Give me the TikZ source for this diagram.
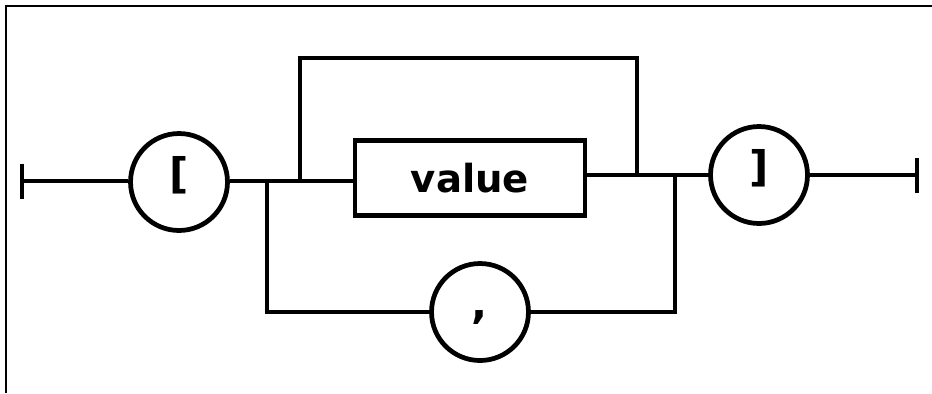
\documentclass[tikz,border=0pt]{standalone}
\usepackage{fontspec}
\setmainfont{DejaVu Sans}
\usetikzlibrary{positioning}

\begin{document}
\begin{tikzpicture}[x=0.02cm,y=-0.02cm,
			rail/.style={line width=2.7pt},
			term/.style={draw,circle,fill=white,line width=2.7pt,minimum size=1.94cm,inner sep=0pt,
				text height=0.88em,text depth=0.12em,font=\bfseries\fontsize{24}{28}\selectfont},
			nonterm/.style={draw,rectangle,fill=white,line width=2.7pt,minimum width=4.6cm,minimum height=1.5cm,
				font=\bfseries\fontsize{22}{26}\selectfont}]
	\useasboundingbox (0,0) rectangle (932,393);
	\draw[line width=1.1pt] (6,393) -- (6,6) -- (932,6);

	\node (lbr) [term] at (179,182) {[};
	\node (value) [nonterm] at (470,178) {value};
	\node (comma) [term] at (480,312) {,};
	\node (rbr) [term] at (759,175) {]};

	\coordinate (start) at (22,181);
	\coordinate (splitL) at (267,181);
	\coordinate (loopL) at (300,181);
	\coordinate (top) at (470,58);
	\coordinate (loopR) at (637,175);
	\coordinate (joinR) at (675,175);
	\coordinate (finish) at (917,175);

	% main line
	\draw[rail] ([yshift=0.35cm]start) -- ([yshift=-0.35cm]start);
	\draw[rail] (start) -- (start -| lbr.west);
	\draw[rail] (lbr.east |- start) -- (value.west |- start);
	\draw[rail] (value.east |- rbr.west) -- (rbr.west);
	\draw[rail] (rbr) -- (finish);
	\draw[rail] ([yshift=0.35cm]finish) -- ([yshift=-0.35cm]finish);

	% loops
	\draw[rail] (loopL) |- (top) -| (loopR);
	\draw[rail] (splitL) |- (comma.west);
	\draw[rail] (comma.east) -| (joinR);
\end{tikzpicture}
\end{document}
